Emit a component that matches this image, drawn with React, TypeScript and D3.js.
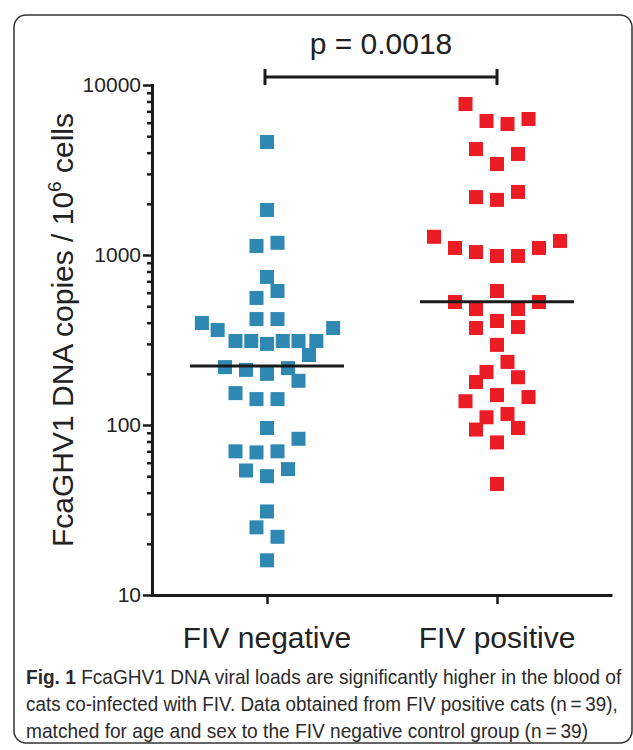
import React, { useEffect, useRef } from "react";
import * as d3 from "d3";

// FcaGHV1 viral load by FIV status (copies / 10^6 cells)
const groups = ["FIV negative", "FIV positive"];

const negValues = [
  4620, 1840, 1130, 1180, 743, 614, 559, 420, 420, 398, 362, 372, 312, 312, 300, 312, 312, 312, 258,
  219, 211, 200, 216, 182, 154, 142, 142, 96, 83, 70, 69, 70, 54, 55, 50, 31, 25, 22, 16,
];
// horizontal spread of the scatter (column units)
const negSpread = [
  0, 0, -1, 1, 0, 1, -1, -1, 1, -6.2, -4.7, 6.3, -3, -1.5, 0, 1.5, 3, 4.7, 4,
  -4, -2, 0, 2, 3, -3, -1, 1, 0, 3, -3, -1, 1, -2, 2, 0, 0, -1, 1, 0,
];

const posValues = [
  7730, 6140, 5900, 6310, 4200, 3430, 3930, 2190, 2110, 2350, 1280, 1100, 1040, 987, 987, 1100, 1210,
  614, 529, 529, 481, 481, 409, 372, 377, 296, 235, 205, 191, 179, 150, 138, 146, 111, 116, 94, 96, 79, 45,
];
const posSpread = [
  -3, -1, 1, 3, -2, 0, 2, -2, 0, 2, -6, -4, -2, 0, 2, 4, 6,
  0, -4, 4, -2, 2, 0, -2, 2, 0, 1, -1, 2, -2, 0, -3, 3, -1, 1, -2, 2, 0, 0,
];

const medians = [222, 530];
const colors = ["#2f88b2", "#ec1c24"];
const pLabel = "p = 0.0018";
const yTicks = [10, 100, 1000, 10000];

const caption = [
  ["Fig. 1", " FcaGHV1 DNA viral loads are significantly higher in the blood of"],
  ["", "cats co-infected with FIV. Data obtained from FIV positive cats (n\u2009=\u200939),"],
  ["", "matched for age and sex to the FIV negative control group (n\u2009=\u200939)"],
];
const captionWidths = [595, 592, 562];

const FONT = "'Liberation Sans', Arial, sans-serif";

const App = () => {
  const yAxisRef = useRef<SVGGElement | null>(null);
  const xAxisRef = useRef<SVGGElement | null>(null);
  const captionRef = useRef<SVGGElement | null>(null);

  const y = d3.scaleLog().domain([10, 10000]).range([595, 85]);
  const x = d3.scalePoint<string>().domain(groups).range([152, 612]).padding(0.5);
  const spread = d3.scaleLinear().domain([-1, 1]).range([-10.5, 10.5]);
  const size = 14;

  const series = [
    { values: negValues, spread: negSpread },
    { values: posValues, spread: posSpread },
  ];

  useEffect(() => {
    const g = d3.select(yAxisRef.current!);
    g.selectAll("*").remove();
    const minor = yTicks.slice(0, -1).flatMap((t) => d3.range(2, 10).map((k) => t * k));
    g.append("g").call(d3.axisLeft(y).tickValues(minor).tickSize(5).tickSizeOuter(0).tickFormat(() => ""));
    g.append("g").call(
      d3.axisLeft(y).tickValues(yTicks).tickSize(9).tickSizeOuter(0).tickPadding(2).tickFormat(d3.format("d"))
    );
    g.selectAll("path.domain").attr("stroke", "#1a1a1a").attr("stroke-width", 3).attr("stroke-linecap", "square");
    g.selectAll("line").attr("stroke", "#1a1a1a").attr("stroke-width", 2.5);
    g.selectAll("text").attr("font-family", FONT).attr("font-size", 21).attr("fill", "#222");

    const gx = d3.select(xAxisRef.current!);
    gx.selectAll("*").remove();
    gx.call(d3.axisBottom(x).tickSize(9).tickSizeOuter(0).tickFormat(() => ""));
    gx.selectAll("path.domain").attr("stroke", "#1a1a1a").attr("stroke-width", 3);
    gx.selectAll("line").attr("stroke", "#1a1a1a").attr("stroke-width", 2.5);

    // squeeze caption lines horizontally to the reference's condensed width
    d3.select(captionRef.current!)
      .selectAll<SVGTextElement, unknown>("text")
      .each(function (_, i) {
        const natural = this.getComputedTextLength();
        const sx = natural > 0 ? captionWidths[i] / natural : 1;
        d3.select(this).attr("transform", `translate(26,${684 + i * 27}) scale(${sx},1)`);
      });
  });

  const x0 = x(groups[0])!;
  const x1 = x(groups[1])!;

  return (
    <svg width={633} height={750} style={{ position: "absolute", left: 0, top: 0, background: "#fff" }}>
      <rect x={14} y={15} width={618} height={728} rx={12} fill="none" stroke="#333" strokeWidth={1.5} />

      {/* significance bracket */}
      <text x={(x0 + x1) / 2 - 1} y={54} textAnchor="middle" fontFamily={FONT} fontSize={30} fill="#222">
        {pLabel}
      </text>
      <g stroke="#1a1a1a" strokeWidth={3}>
        <line x1={x0 - 2} x2={x1} y1={77} y2={77} />
        <line x1={x0 - 2} x2={x0 - 2} y1={69} y2={85} />
        <line x1={x1} x2={x1} y1={69} y2={85} />
      </g>

      <g ref={yAxisRef} transform="translate(152,0)" />
      <g ref={xAxisRef} transform="translate(0,595)" />

      <text
        transform="translate(73,330) rotate(-90)"
        textAnchor="middle"
        fontFamily={FONT}
        fontSize={30}
        fill="#222"
      >
        FcaGHV1 DNA copies / 10<tspan dy={-12} fontSize={19}>6</tspan>
        <tspan dy={12}> cells</tspan>
      </text>

      {series.map((s, i) => (
        <g key={groups[i]} fill={colors[i]}>
          {s.values.map((v, j) => (
            <rect
              key={j}
              x={x(groups[i])! + spread(s.spread[j]) - size / 2}
              y={y(v) - size / 2}
              width={size}
              height={size}
            />
          ))}
        </g>
      ))}

      {medians.map((m, i) => (
        <line
          key={i}
          x1={x(groups[i])! - 77}
          x2={x(groups[i])! + 77}
          y1={y(m)}
          y2={y(m)}
          stroke="#1a1a1a"
          strokeWidth={3}
        />
      ))}

      {groups.map((g) => (
        <text key={g} x={x(g)!} y={648} textAnchor="middle" fontFamily={FONT} fontSize={30} fill="#222">
          {g}
        </text>
      ))}

      <g ref={captionRef}>
        {caption.map((line, i) => (
          <text
            key={i}
            transform={`translate(26,${684 + i * 27}) scale(0.9,1)`}
            fontFamily="'Liberation Sans Narrow', 'Liberation Sans', Arial, sans-serif"
            fontSize={20}
            fill="#2a2a2a"
          >
            {line[0] && <tspan fontWeight="bold">{line[0]}</tspan>}
            {line[1]}
          </text>
        ))}
      </g>
    </svg>
  );
};

export default App;
